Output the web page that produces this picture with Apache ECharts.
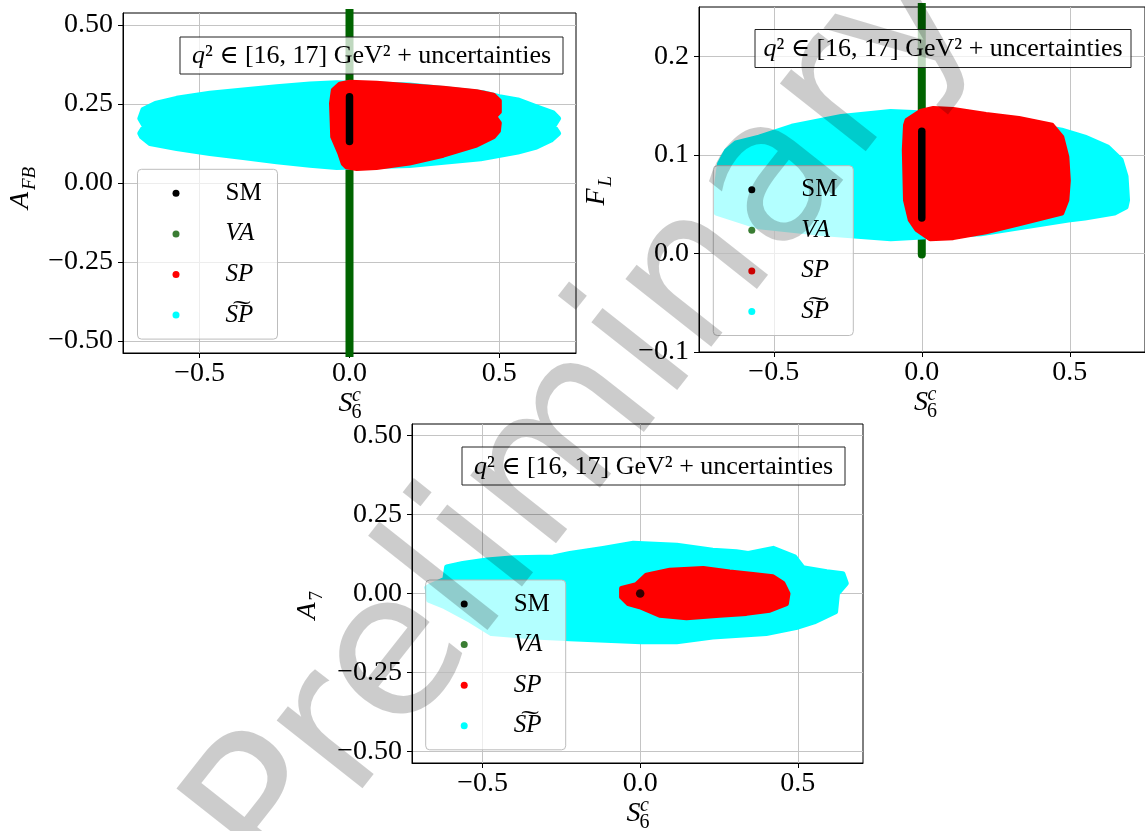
<!DOCTYPE html>
<html>
<head>
<meta charset="utf-8">
<style>
  html, body { margin: 0; padding: 0; background: #ffffff; }
  #chart { width: 1145px; height: 831px; }
</style>
<script src="https://cdn.jsdelivr.net/npm/echarts@6/dist/echarts.min.js"></script>
</head>
<body>
<div id="chart"></div>
<script>
// ---- legend / series names ----
const seriesNames = ['SM', 'VA', 'SP', 'S\u0360P'];

// ---- tick values ----
const s6Ticks  = [-0.5, 0.0, 0.5];
const afbTicks = [-0.5, -0.25, 0.0, 0.25, 0.5];
const flTicks  = [-0.1, 0.0, 0.1, 0.2];
const a7Ticks  = [-0.5, -0.25, 0.0, 0.25, 0.5];

// ---- A_FB vs S6c ----
const afbSM = [[0, 0.131], [0, 0.273]];
const afbVA = [[0, -0.56], [0, 0.56]];
const afbSP = [
  [-0.054, 0.294], [-0.032, 0.313], [0.001, 0.319], [0.090, 0.316], [0.200, 0.308],
  [0.313, 0.300], [0.424, 0.289], [0.480, 0.278], [0.500, 0.260], [0.500, 0.225],
  [0.485, 0.210], [0.500, 0.190], [0.497, 0.165], [0.480, 0.146], [0.424, 0.120],
  [0.313, 0.088], [0.200, 0.063], [0.090, 0.049], [0.024, 0.046], [-0.010, 0.051],
  [-0.021, 0.062], [-0.032, 0.093], [-0.056, 0.146], [-0.060, 0.252]
];
const afbSPt = [
  [-0.700, 0.204], [-0.689, 0.233], [-0.648, 0.252], [-0.577, 0.268], [-0.466, 0.284],
  [-0.355, 0.294], [-0.243, 0.305], [-0.132, 0.313], [-0.043, 0.317], [0.200, 0.310],
  [0.446, 0.286], [0.500, 0.273], [0.562, 0.263], [0.624, 0.241], [0.680, 0.222],
  [0.698, 0.204], [0.682, 0.180], [0.698, 0.157], [0.673, 0.136], [0.624, 0.114],
  [0.562, 0.098], [0.438, 0.077], [0.200, 0.055], [-0.043, 0.049], [-0.132, 0.056],
  [-0.243, 0.067], [-0.355, 0.081], [-0.466, 0.093], [-0.577, 0.109], [-0.666, 0.125],
  [-0.694, 0.146], [-0.700, 0.157], [-0.685, 0.180]
];

// ---- F_L vs S6c ----
const flSM = [[0, 0.036], [0, 0.124]];
const flVA = [[0, -0.001], [0, 0.26]];
const flSP = [
  [-0.055, 0.130], [-0.050, 0.135], [-0.005, 0.144], [0.039, 0.147], [0.106, 0.146],
  [0.217, 0.141], [0.328, 0.137], [0.440, 0.130], [0.473, 0.118], [0.490, 0.098],
  [0.495, 0.074], [0.490, 0.054], [0.473, 0.041], [0.328, 0.030], [0.217, 0.022],
  [0.106, 0.016], [0.028, 0.015], [-0.016, 0.024], [-0.039, 0.034], [-0.055, 0.054],
  [-0.059, 0.105]
];
const flSPt = [
  [-0.694, 0.068], [-0.683, 0.091], [-0.660, 0.104], [-0.628, 0.112], [-0.550, 0.118],
  [-0.439, 0.129], [-0.272, 0.139], [-0.105, 0.144], [0.200, 0.140], [0.473, 0.125],
  [0.551, 0.118], [0.628, 0.108], [0.673, 0.095], [0.690, 0.078], [0.695, 0.054],
  [0.690, 0.047], [0.651, 0.041], [0.551, 0.036], [0.495, 0.034], [0.200, 0.020],
  [-0.105, 0.015], [-0.328, 0.020], [-0.550, 0.027], [-0.694, 0.041]
];

// ---- A_7 vs S6c ----
const a7SM = [[0, 0]];
const a7VA = [[0, 0]];
const a7SP = [
  [-0.059, 0.016], [-0.012, 0.028], [0.020, 0.058], [0.094, 0.074], [0.200, 0.079],
  [0.284, 0.068], [0.358, 0.060], [0.421, 0.053], [0.453, 0.032], [0.469, 0.000],
  [0.464, -0.032], [0.411, -0.053], [0.337, -0.063], [0.252, -0.069], [0.147, -0.077],
  [0.062, -0.069], [-0.001, -0.042], [-0.038, -0.032], [-0.059, -0.011]
];
const a7SPt = [
  [-0.614, 0.084], [-0.563, 0.095], [-0.487, 0.106], [-0.400, 0.113], [-0.276, 0.116],
  [-0.223, 0.127], [-0.118, 0.143], [-0.022, 0.159], [0.116, 0.153], [0.230, 0.137],
  [0.305, 0.132], [0.343, 0.127], [0.422, 0.143], [0.490, 0.116], [0.516, 0.082],
  [0.592, 0.069], [0.643, 0.063], [0.654, 0.032], [0.626, 0.000], [0.620, -0.058],
  [0.552, -0.090], [0.502, -0.106], [0.400, -0.127], [0.230, -0.138], [0.116, -0.153],
  [0.003, -0.153], [-0.110, -0.148], [-0.223, -0.143], [-0.336, -0.138], [-0.472, -0.127],
  [-0.540, -0.085], [-0.620, -0.042], [-0.671, -0.021], [-0.676, 0.020], [-0.620, 0.045]
];

// ---- colours ----
const COLORS = { SM: '#000000', VA: '#006400', VAkey: '#3a7d33', SP: '#ff0000', SPt: '#00ffff' };
const SERIF = '"Liberation Serif", "DejaVu Serif", serif';

// ---- panel layout ----
const panels = [
  {
    left: 123, top: 13, width: 453, height: 340,
    x: [-0.756, 0.756], y: [-0.538, 0.538], yTicks: afbTicks, yDigits: 2,
    sm: afbSM, va: afbVA, sp: afbSP, spt: afbSPt,
    yName: ['A', 'FB'], yNameItalicSub: true, yTitleX: 24,
    legend: [137.5, 169.3], box: [180, 37, 383, 37]
  },
  {
    left: 699, top: 7, width: 452, height: 345,
    x: [-0.7525, 0.754], y: [-0.1, 0.25], yTicks: flTicks, yDigits: 1,
    sm: flSM, va: flVA, sp: flSP, spt: flSPt,
    yName: ['F', 'L'], yNameItalicSub: true, yTitleX: 600,
    legend: [713.3, 165.7], box: [755, 29.5, 376, 38]
  },
  {
    left: 412, top: 424, width: 451, height: 339,
    x: [-0.724, 0.707], y: [-0.537, 0.537], yTicks: a7Ticks, yDigits: 2,
    sm: a7SM, va: a7VA, sp: a7SP, spt: a7SPt,
    yName: ['A', '7'], yNameItalicSub: false, yTitleX: 311,
    legend: [425.7, 580], box: [462, 447, 383, 38]
  }
];

function tickText(v, digits) {
  const s = Math.abs(v).toFixed(digits);
  return (v < -1e-9 ? '\u2212' : '') + s;
}

// filled region outlined by its boundary points
function polygonSeries(name, pts, color, idx, z) {
  return {
    type: 'custom', name: name, xAxisIndex: idx, yAxisIndex: idx, z: z,
    clip: true, silent: true, data: pts,
    itemStyle: { color: color },
    renderItem: function (params, api) {
      if (params.context.rendered) return;
      params.context.rendered = true;
      const points = pts.map(function (p) { return api.coord(p); });
      return {
        type: 'polygon',
        shape: { points: points },
        style: { fill: color, stroke: color, lineWidth: 5, lineJoin: 'round' }
      };
    }
  };
}

// vertical band of points (thick segment) or a single point
function segmentSeries(name, pts, color, width, idx, z) {
  if (pts.length > 1) {
    return {
      type: 'line', name: name, xAxisIndex: idx, yAxisIndex: idx, z: z, silent: true,
      data: pts, symbol: 'none', clip: true,
      lineStyle: { color: color, width: width, cap: 'round' },
      itemStyle: { color: color }
    };
  }
  return {
    type: 'scatter', name: name, xAxisIndex: idx, yAxisIndex: idx, z: z, silent: true,
    data: pts, symbolSize: width + 1, itemStyle: { color: color }
  };
}

const grids = [], xAxes = [], yAxes = [], series = [], legends = [], graphics = [];

panels.forEach(function (p, i) {
  grids.push({
    left: p.left, top: p.top, width: p.width, height: p.height,
    show: true, borderColor: '#000', borderWidth: 1, backgroundColor: 'transparent'
  });
  xAxes.push({
    type: 'value', gridIndex: i, min: p.x[0], max: p.x[1],
    axisLine: { show: true, onZero: false, lineStyle: { color: '#000', width: 1 } },
    axisTick: { show: true, length: 5, customValues: s6Ticks, lineStyle: { color: '#000' } },
    axisLabel: {
      customValues: s6Ticks, margin: 7, color: '#000', fontFamily: SERIF, fontSize: 28,
      formatter: function (v) { return tickText(v, 1); }
    },
    splitLine: { show: true, lineStyle: { color: '#c4c4c4', width: 1 } }
  });
  yAxes.push({
    type: 'value', gridIndex: i, min: p.y[0], max: p.y[1],
    axisLine: { show: true, onZero: false, lineStyle: { color: '#000', width: 1 } },
    axisTick: { show: true, length: 5, customValues: p.yTicks, lineStyle: { color: '#000' } },
    axisLabel: {
      customValues: p.yTicks, margin: 10, color: '#000', fontFamily: SERIF, fontSize: 28,
      formatter: function (v) { return tickText(v, p.yDigits); }
    },
    splitLine: { show: true, lineStyle: { color: '#c4c4c4', width: 1 } }
  });

  series.push(segmentSeries('VA', p.va, COLORS.VA, 8, i, 2));
  series.push(polygonSeries(seriesNames[3], p.spt, COLORS.SPt, i, 3));
  series.push(polygonSeries('SP', p.sp, COLORS.SP, i, 4));
  series.push(segmentSeries('SM', p.sm, COLORS.SM, 7.5, i, 5));

  legends.push({
    left: p.legend[0], top: p.legend[1], orient: 'vertical', selectedMode: false,
    icon: 'circle', itemWidth: 7, itemHeight: 7, itemGap: 10.6,
    padding: [9, 14, 9, 35],
    backgroundColor: 'rgba(255,255,255,0.7)', borderColor: '#bdbdbd', borderWidth: 1, borderRadius: 4,
    z: 20,
    data: [
      { name: 'SM', itemStyle: { color: COLORS.SM } },
      { name: 'VA', itemStyle: { color: COLORS.VAkey } },
      { name: 'SP', itemStyle: { color: COLORS.SP } },
      { name: seriesNames[3], itemStyle: { color: COLORS.SPt } }
    ],
    formatter: function (name) {
      return name === 'SM' ? '{rm|SM}' : '{it|' + name + '}';
    },
    textStyle: {
      color: '#000', fontFamily: SERIF, fontSize: 25, lineHeight: 30, width: 38, padding: [0, 0, 0, 41],
      rich: {
        rm: { fontFamily: SERIF, fontSize: 25, lineHeight: 30, color: '#000' },
        it: { fontFamily: SERIF, fontStyle: 'italic', fontSize: 25, lineHeight: 30, color: '#000' }
      }
    }
  });

  // annotation box
  const b = p.box;
  graphics.push({
    type: 'rect', z: 30, silent: true,
    shape: { x: b[0], y: b[1], width: b[2], height: b[3] },
    style: { fill: 'rgba(255,255,255,0.75)', stroke: '#222', lineWidth: 1 }
  });
  graphics.push({
    type: 'text', z: 31, silent: true, x: b[0] + b[2] / 2, y: b[1] + b[3] / 2 + 1,
    style: {
      text: '{i|q}{n|\u00B2 \u2208 [16, 17] GeV\u00B2 + uncertainties}',
      align: 'center', verticalAlign: 'middle', textAlign: 'center', textVerticalAlign: 'middle',
      rich: {
        i: { fontFamily: SERIF, fontStyle: 'italic', fontSize: 26, fill: '#000' },
        n: { fontFamily: SERIF, fontSize: 26, fill: '#000' }
      }
    }
  });

  // x axis title: S_6^c
  const cx = p.left + p.width / 2;
  const by = p.top + p.height;
  graphics.push({
    type: 'group', silent: true, children: [
      { type: 'text', x: cx - 4, y: by + 51, style: { text: 'S', font: 'italic 28px ' + SERIF, fill: '#000', align: 'center', verticalAlign: 'middle' } },
      { type: 'text', x: cx + 7, y: by + 43, style: { text: 'c', font: 'italic 20px ' + SERIF, fill: '#000', align: 'center', verticalAlign: 'middle' } },
      { type: 'text', x: cx + 7, y: by + 60, style: { text: '6', font: '20px ' + SERIF, fill: '#000', align: 'center', verticalAlign: 'middle' } }
    ]
  });

  // y axis title, rotated
  const cy = p.top + p.height / 2;
  graphics.push({
    type: 'group', silent: true, x: p.yTitleX, y: cy, rotation: Math.PI / 2, children: [
      { type: 'text', x: -9, y: -3, style: { text: p.yName[0], font: 'italic 28px ' + SERIF, fill: '#000', align: 'right', verticalAlign: 'middle' } },
      { type: 'text', x: -7, y: 6, style: { text: p.yName[1], font: (p.yNameItalicSub ? 'italic ' : '') + '19px ' + SERIF, fill: '#000', align: 'left', verticalAlign: 'middle' } }
    ]
  });
});

// watermark across the whole figure
graphics.push({
  type: 'text', z: 100, silent: true, x: 588, y: 419, rotation: 51.7 * Math.PI / 180,
  style: {
    text: 'Preliminary', font: '200px "DejaVu Sans"', fill: 'rgba(0,0,0,0.2)',
    align: 'center', verticalAlign: 'middle', textAlign: 'center', textVerticalAlign: 'middle'
  }
});

const chart = echarts.init(document.getElementById('chart'), null, { renderer: 'canvas' });
chart.setOption({
  animation: false,
  backgroundColor: '#ffffff',
  grid: grids,
  xAxis: xAxes,
  yAxis: yAxes,
  legend: legends,
  series: series,
  graphic: graphics
});
</script>
</body>
</html>
